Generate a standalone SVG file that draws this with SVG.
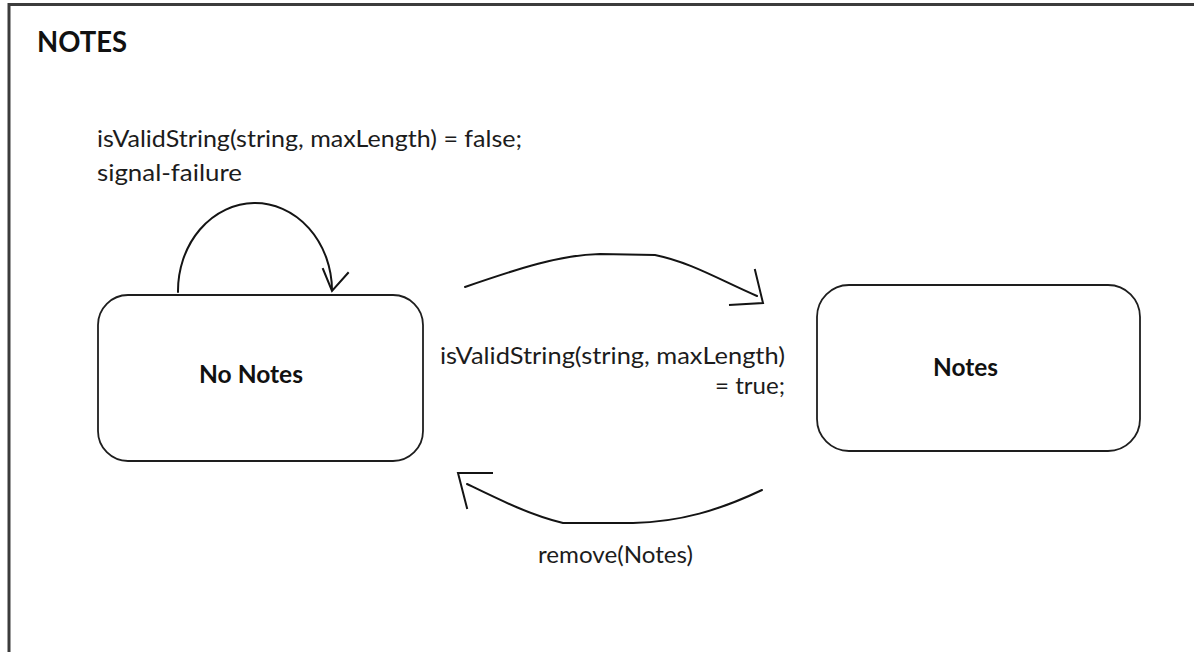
<svg xmlns="http://www.w3.org/2000/svg" width="1194" height="652" viewBox="0 0 1194 652">
  <style>
    .frame { fill: none; stroke: #3c3c3c; stroke-width: 3; }
    .state { fill: #ffffff; stroke: #1e1e1e; stroke-width: 1.8; }
    .edge { fill: none; stroke: #141414; stroke-width: 2; stroke-linecap: round; stroke-linejoin: round; }
    .head { fill: none; stroke: #141414; stroke-width: 2; stroke-linecap: square; stroke-linejoin: miter; }
    .lbl { font-family: Lato, "Open Sans", sans-serif; font-size: 24px; fill: #1c1c1c; }
    .name { font-family: Lato, "Open Sans", sans-serif; font-size: 25px; font-weight: bold; fill: #111111; }
    .title { font-family: Lato, "Open Sans", sans-serif; font-size: 29px; font-weight: bold; fill: #111111; }
  </style>

  <rect width="1194" height="652" fill="#ffffff"/>
  <!-- page frame: left and top edges only -->
  <path class="frame" d="M9,652 V4.5 H1194"/>
  <text class="title" x="37" y="52" textLength="90" lengthAdjust="spacingAndGlyphs">NOTES</text>

  <g id="connectors">
    <!-- self loop on No Notes -->
    <path class="edge" d="M178,292 A77,88 0 0 1 332,290"/>
    <polyline class="head" points="323,269 332,291 348,273"/>
    <text class="lbl" x="97" y="147" textLength="425" lengthAdjust="spacingAndGlyphs">isValidString(string, maxLength) = false;</text>
    <text class="lbl" x="97" y="181" textLength="145" lengthAdjust="spacingAndGlyphs">signal-failure</text>

    <!-- No Notes to Notes -->
    <path class="edge" d="M465,287 C520,268 560,255 600,254 L655,255 C690,262 720,280 757,296"/>
    <polyline class="head" points="755,270 763,303 730,305"/>
    <text class="lbl" x="440" y="364" textLength="345" lengthAdjust="spacingAndGlyphs">isValidString(string, maxLength)</text>
    <text class="lbl" x="715" y="394" textLength="70" lengthAdjust="spacingAndGlyphs">= true;</text>

    <!-- Notes back to No Notes -->
    <path class="edge" d="M762,490 C720,510 680,522 633,523 L563,523 C530,515 500,500 467,484"/>
    <polyline class="head" points="492,473 458,473 467,508"/>
    <text class="lbl" x="538" y="563" textLength="155" lengthAdjust="spacingAndGlyphs">remove(Notes)</text>
  </g>

  <g id="no-notes">
    <rect class="state" x="98" y="295" width="325" height="166" rx="30"/>
    <text class="name" x="199" y="383" textLength="104" lengthAdjust="spacingAndGlyphs">No Notes</text>
  </g>

  <g id="notes">
    <rect class="state" x="817" y="285" width="323" height="166" rx="32"/>
    <text class="name" x="933" y="376" textLength="65" lengthAdjust="spacingAndGlyphs">Notes</text>
  </g>
</svg>
